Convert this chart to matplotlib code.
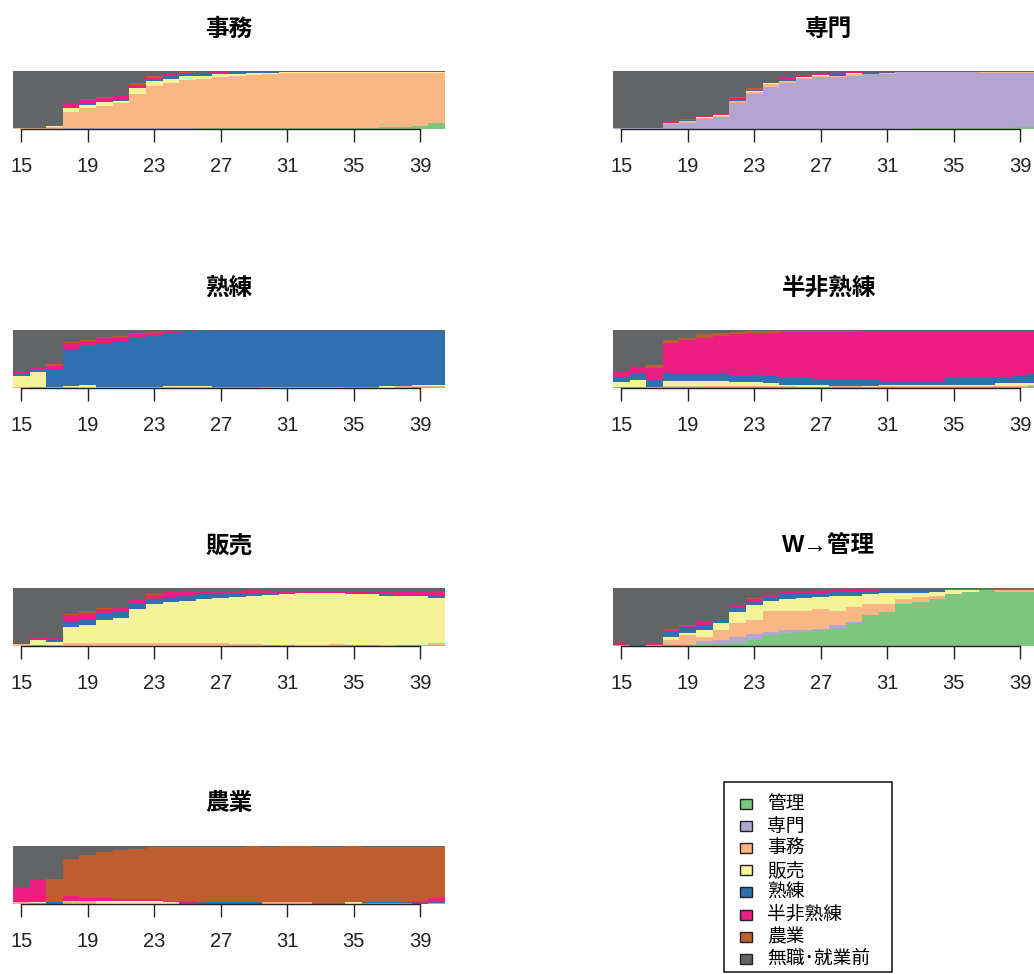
import numpy as np
import matplotlib
matplotlib.use('Agg')
import matplotlib.pyplot as plt
from matplotlib.patches import Rectangle

plt.rcParams['font.family'] = ['Liberation Sans', 'Noto Sans CJK JP', 'DejaVu Sans']

# states, bottom -> top in each stacked bar
states = ['管理', '専門', '事務', '販売', '熟練', '半非熟練', '農業', '無職･就業前']
colors = ['#7DC67F', '#B2A5CF', '#F8B785', '#F5F39A', '#3170B0', '#EC1E82', '#BE5E2F', '#636466']
ages = list(range(15, 41))
tick_ages = [15, 19, 23, 27, 31, 35, 39]

# share (%) of each state by age, one row per state
p_jimu = [
    [0,0,0,0,0,0,0,0,0,0,0,1,1,1,1,1,1,1,1,1,1,1,3,3,5,10],
    [0,0,0,1,1,1,1,1,1,1,1,0,0,0,0,0,0,0,0,0,0,1,0,0,0,0],
    [1,1,4,29,35,39,43,60,73,79,83,85,88,90,92,93,95,95,95,95,95,94,93,93,91,86],
    [0,0,1,6,5,6,5,9,8,7,7,6,5,4,3,3,2,2,2,2,2,2,2,2,2,2],
    [0,1,0,2,4,3,3,3,4,4,3,2,1,3,2,1,1,1,1,1,1,1,1,1,1,1],
    [1,0,0,6,5,5,6,3,2,3,3,2,3,1,1,1,0,0,0,0,0,0,0,0,0,0],
    [0,0,1,1,2,1,1,3,3,1,1,1,0,0,0,0,0,0,0,0,0,0,0,0,0,0],
    [98,98,94,55,48,45,41,21,9,5,2,3,2,1,1,1,1,1,1,1,1,1,1,1,1,1],
]
p_senmon = [
    [0,0,0,0,0,0,0,0,0,0,0,0,0,0,0,0,0,0,1,1,1,1,1,1,4,4],
    [1,1,1,8,11,17,20,44,61,73,80,86,89,90,92,94,95,98,97,97,97,97,96,96,93,93],
    [0,0,0,2,3,2,3,4,3,5,3,2,3,1,2,0,2,0,0,0,0,0,1,1,1,1],
    [0,0,0,0,0,1,1,0,2,1,0,1,1,0,2,0,0,0,0,0,0,0,0,0,0,0],
    [0,0,0,0,1,1,0,2,1,0,3,0,0,4,0,3,0,0,0,0,0,0,0,0,0,0],
    [0,0,0,3,0,3,3,4,0,0,4,4,2,0,2,0,0,0,0,0,0,0,0,0,0,0],
    [0,0,0,0,2,0,0,2,3,0,0,0,0,0,0,0,0,0,0,0,0,0,0,0,0,0],
    [99,99,99,87,83,76,73,44,30,21,10,7,5,5,2,3,3,2,2,2,2,2,2,2,2,2],
]
p_jukuren = [
    [0,1,0,0,0,0,0,0,0,0,0,0,0,0,0,0,0,0,0,0,2,2,0,0,1,1],
    [0,0,0,0,0,0,0,0,0,0,0,0,1,1,1,0,0,0,0,0,0,0,0,0,0,0],
    [2,0,2,1,0,1,1,1,1,1,1,1,0,0,0,2,2,2,2,2,0,0,0,3,2,2],
    [19,27,0,2,5,1,1,1,1,2,2,2,0,0,0,0,0,0,0,0,0,0,3,0,2,3],
    [4,3,30,65,68,76,79,85,88,91,93,95,98,98,98,97,97,97,97,97,97,97,96,96,94,93],
    [4,3,6,9,8,8,7,6,5,3,2,1,0,0,0,0,0,0,0,0,0,0,0,0,0,0],
    [0,0,3,2,2,2,2,2,1,0,0,0,0,0,0,0,0,0,0,0,0,0,0,0,0,0],
    [71,66,59,21,17,12,10,5,4,3,2,1,1,1,1,1,1,1,1,1,1,1,1,1,1,1],
]
p_hanhi = [
    [2,1,0,0,0,1,1,1,1,1,1,1,1,2,2,1,1,1,1,1,1,1,1,1,1,1],
    [0,0,0,2,2,1,1,1,1,0,0,0,0,0,0,0,0,0,0,0,0,0,0,0,0,2],
    [0,0,2,2,2,2,2,2,2,2,2,1,1,1,1,1,2,2,2,2,2,2,2,2,2,2],
    [8,13,0,8,8,8,8,6,6,5,3,3,3,0,0,1,3,3,3,3,3,3,3,5,5,3],
    [9,12,11,14,14,14,14,12,12,12,11,12,8,11,11,10,6,6,6,6,11,11,11,9,12,16],
    [9,11,22,51,56,61,64,71,73,75,79,80,84,83,83,86,87,87,87,87,82,82,82,82,79,75],
    [0,0,5,5,5,6,4,3,4,3,2,2,2,2,2,0,0,0,0,0,0,0,0,0,0,0],
    [72,63,60,18,13,7,6,4,1,2,2,1,1,1,1,1,1,1,1,1,1,1,1,1,1,1],
]
p_hanbai = [
    [0,1,0,0,0,0,0,0,0,0,0,0,0,0,0,0,0,0,0,0,0,0,0,1,1,1],
    [0,0,0,0,0,0,0,0,0,0,0,0,0,0,0,1,1,0,0,0,1,1,0,0,0,0],
    [3,0,2,6,6,6,6,6,6,6,6,6,6,3,3,1,1,1,1,3,1,1,1,1,1,4],
    [1,10,5,26,31,38,43,58,67,70,72,75,77,82,83,86,87,90,90,88,87,87,85,84,84,78],
    [0,0,3,11,9,11,9,8,8,9,9,8,7,5,4,2,1,0,0,0,2,2,3,1,1,4],
    [0,2,5,10,11,8,8,9,7,8,7,5,5,5,7,4,4,4,4,4,3,3,6,7,7,8],
    [0,0,0,2,3,2,0,0,2,0,0,0,0,0,0,0,0,0,0,0,0,0,0,0,0,0],
    [96,87,85,45,40,35,34,19,10,7,6,6,5,5,3,6,6,5,5,5,6,6,5,6,6,5],
]
p_kanri = [
    [1,0,0,2,2,3,3,5,10,19,22,24,27,30,39,53,59,73,76,81,90,93,96,93,93,93],
    [0,0,0,0,0,6,7,11,10,5,6,4,3,6,2,0,0,0,0,0,0,0,0,0,0,0],
    [1,0,2,8,17,6,17,24,25,36,33,33,34,25,26,20,14,8,8,6,0,0,0,3,4,4],
    [0,0,0,6,3,12,12,19,25,18,20,22,21,26,20,17,18,10,8,6,7,4,0,0,0,0],
    [0,2,0,8,10,10,6,8,6,7,10,8,6,7,6,5,5,5,4,4,0,0,0,0,0,0],
    [1,0,3,4,3,6,2,4,5,3,2,2,3,2,3,2,1,1,1,0,0,0,0,0,0,0],
    [0,0,0,2,2,0,0,0,2,0,0,0,0,0,0,0,0,0,0,0,2,2,3,3,2,2],
    [97,98,95,70,63,57,53,29,17,12,7,7,6,4,4,3,3,3,3,3,1,1,1,1,1,1],
]
p_nogyo = [
    [0,1,0,0,0,0,0,0,0,0,0,0,0,0,0,0,0,0,0,0,0,2,2,2,0,1],
    [0,0,0,0,0,0,0,0,0,0,0,0,0,0,0,0,0,0,0,0,0,0,0,0,0,0],
    [3,0,0,5,5,0,0,0,0,0,0,0,0,0,0,4,4,4,0,0,0,0,0,0,0,0],
    [0,2,0,0,0,6,6,6,6,3,0,0,0,0,0,0,0,0,0,0,4,0,0,0,0,0],
    [0,0,3,0,0,0,0,0,0,0,2,4,4,4,4,0,0,0,0,0,0,2,2,2,2,3],
    [26,38,0,8,5,4,3,3,3,3,3,0,0,0,0,0,0,0,0,0,0,0,0,0,4,6],
    [0,0,40,65,75,80,84,86,89,92,93,94,94,94,96,94,96,96,98,98,96,94,94,94,92,88],
    [71,59,57,22,15,10,7,5,2,2,2,2,2,2,0,2,0,0,2,2,0,2,2,2,2,2],
]

titles = ['事務', '専門', '熟練', '半非熟練', '販売', 'W→管理', '農業']
panels = [p_jimu, p_senmon, p_jukuren, p_hanhi, p_hanbai, p_kanri, p_nogyo]

W, H = 1034, 974
fig = plt.figure(figsize=(W / 100, H / 100), dpi=100)

col_left = [13, 613]
row_top = [71, 330, 588, 846]
pw, ph = 432, 58


def fig_rect(x, y, w, h):
    # pixel box (top-left origin) -> figure fraction
    return [x / W, 1 - (y + h) / H, w / W, h / H]


for i, (title, data) in enumerate(zip(titles, panels)):
    r, c = divmod(i, 2)
    ax = fig.add_axes(fig_rect(col_left[c], row_top[r], pw, ph))
    p = np.array(data, dtype=float)
    p = p / p.sum(axis=0)
    bottom = np.zeros(len(ages))
    for k in range(len(states)):
        ax.bar(ages, p[k], width=1.0, bottom=bottom, color=colors[k],
               linewidth=0, antialiased=False)
        bottom += p[k]
    ax.set_xlim(14.5, 40.5)
    ax.set_ylim(0, 1)
    for s in ['top', 'right', 'left']:
        ax.spines[s].set_visible(False)
    ax.spines['bottom'].set_bounds(15, 39)
    ax.spines['bottom'].set_linewidth(1.0)
    ax.spines['bottom'].set_color('#222222')
    ax.set_yticks([])
    ax.set_xticks(tick_ages)
    ax.tick_params(axis='x', direction='out', length=9, width=1.0, pad=11,
                   labelsize=14.5, colors='#222222')
    ax.text(0.5, 1 + 42 / ph, title, transform=ax.transAxes, ha='center',
            va='center', fontsize=17, fontweight='bold')

# legend box
lx, ly, lw, lh = 724, 782, 168, 190
fig.add_artist(Rectangle((lx / W, 1 - (ly + lh) / H), lw / W, lh / H,
                         transform=fig.transFigure, facecolor='white',
                         edgecolor='#222222', linewidth=1.2))
entry_y0, entry_dy = 804, 22.1
for k, (name, col) in enumerate(zip(states, colors)):
    cy = entry_y0 + k * entry_dy
    fig.add_artist(Rectangle((740 / W, 1 - (cy + 5) / H), 12 / W, 10 / H,
                             transform=fig.transFigure, facecolor=col,
                             edgecolor='#222222', linewidth=1.0))
    fig.text(767 / W, 1 - cy / H, name, ha='left', va='center', fontsize=13.5,
             family=['Noto Sans CJK JP', 'DejaVu Sans'])

fig.savefig('out.png', dpi=100)
